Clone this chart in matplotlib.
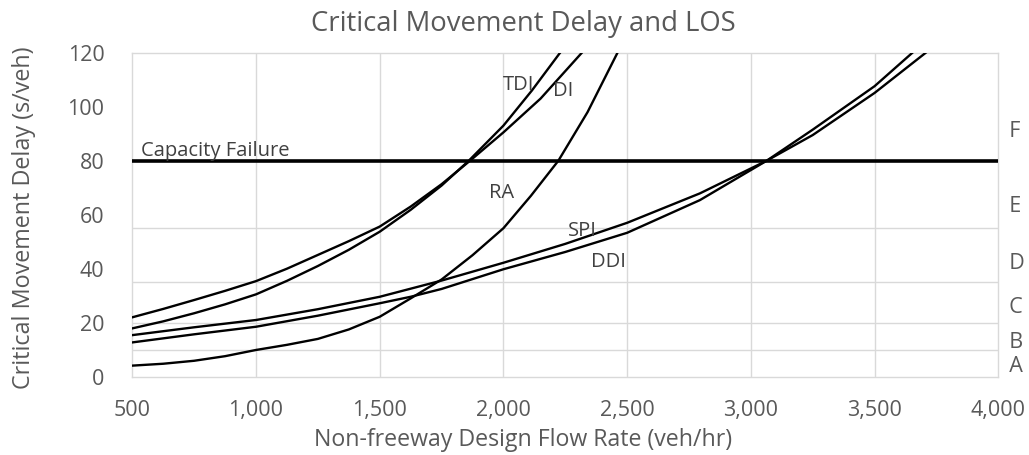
import matplotlib
matplotlib.use("Agg")
import matplotlib.pyplot as plt
from matplotlib.ticker import FuncFormatter

plt.rcParams['font.family'] = ['Open Sans', 'DejaVu Sans']

# ---- data ----
tdi_x = [500, 625, 750, 875, 1000, 1125, 1250, 1375, 1500, 1625, 1750, 1860, 1930, 2000, 2115, 2229]
tdi_y = [17.9, 20.5, 23.5, 26.8, 30.5, 35.5, 41.0, 47.0, 53.7, 61.8, 70.8, 80.0, 86.5, 93.0, 106.0, 120.0]

di_x = [500, 625, 750, 875, 1000, 1125, 1250, 1375, 1500, 1625, 1750, 1865, 2000, 2150, 2317]
di_y = [22.0, 25.1, 28.4, 31.8, 35.4, 40.0, 45.1, 50.2, 55.6, 63.0, 71.3, 80.0, 90.5, 103.0, 120.0]

ra_x = [500, 625, 750, 875, 1000, 1125, 1250, 1375, 1500, 1625, 1750, 1875, 2000, 2111, 2222, 2340, 2461]
ra_y = [4.1, 4.8, 5.9, 7.6, 9.9, 11.8, 14.0, 17.5, 22.2, 29.0, 36.0, 45.0, 55.0, 67.0, 80.0, 98.0, 120.0]

spi_x = [500, 750, 1000, 1250, 1500, 1750, 2000, 2250, 2500, 2794, 3064, 3250, 3500, 3707]
spi_y = [15.4, 18.3, 21.0, 25.0, 29.6, 35.6, 42.2, 49.2, 57.0, 67.9, 80.0, 89.5, 105.1, 120.0]

ddi_x = [500, 750, 1000, 1250, 1500, 1625, 1750, 2000, 2250, 2500, 2794, 3064, 3250, 3500, 3653]
ddi_y = [12.7, 15.7, 18.5, 22.6, 27.2, 29.6, 32.5, 39.8, 46.2, 53.3, 65.4, 80.0, 91.5, 107.6, 120.0]

capacity_delay = 80
los_bounds = [10, 20, 35, 55]
los_letters = ['A', 'B', 'C', 'D', 'E', 'F']
los_label_y = [3.7, 12.7, 25.7, 42.0, 63.0, 90.7]

x_ticks = [500, 1000, 1500, 2000, 2500, 3000, 3500, 4000]
y_ticks = [0, 20, 40, 60, 80, 100, 120]

curve_labels = ['TDI', 'DI', 'RA', 'SPI', 'DDI']
curve_label_pos = [(2060, 108), (2240, 105.9), (1993, 67.9), (2317, 54.1), (2424, 42.4)]

# ---- figure ----
W, H = 1029, 455
fig = plt.figure(figsize=(W / 100, H / 100), dpi=100)
ax = fig.add_axes([132.3 / W, 1 - 376.7 / H, (998.3 - 132.3) / W, (376.7 - 52.7) / H])

grid_c = '#D9D9D9'
text_c = '#595959'
label_c = '#404040'

ax.set_xlim(500, 4000)
ax.set_ylim(0, 120)

for xv in x_ticks[1:-1]:
    ax.axvline(xv, color=grid_c, lw=1.0, zorder=1)
for yv in los_bounds:
    ax.axhline(yv, color=grid_c, lw=1.0, zorder=1)

for sp in ax.spines.values():
    sp.set_color(grid_c)
    sp.set_linewidth(1.0)

ax.axhline(capacity_delay, color='black', lw=2.6, zorder=3)

for xs, ys in [(tdi_x, tdi_y), (di_x, di_y), (ra_x, ra_y), (spi_x, spi_y), (ddi_x, ddi_y)]:
    ax.plot(xs, ys, color='black', lw=1.7, zorder=4, solid_joinstyle='round')

ax.set_xticks(x_ticks)
ax.set_yticks(y_ticks)
ax.xaxis.set_major_formatter(FuncFormatter(lambda v, p: f"{int(v):,}"))
ax.tick_params(axis='both', length=0, labelsize=15.5, labelcolor=text_c)
ax.tick_params(axis='x', pad=17)
ax.tick_params(axis='y', pad=20)

for name, (lx, ly) in zip(curve_labels, curve_label_pos):
    ax.text(lx, ly, name, ha='center', va='center', fontsize=14.5, color=label_c, zorder=5)
ax.text(537, 83.6, 'Capacity Failure', ha='left', va='center', fontsize=14.5, color=label_c, zorder=5)

for letter, ly in zip(los_letters, los_label_y):
    ax.text(1.0, ly, '  ' + letter, transform=ax.get_yaxis_transform(), ha='left', va='center',
            fontsize=15.5, color=text_c)

fig.text(523.5 / W, 1 - 24 / H, 'Critical Movement Delay and LOS', ha='center', va='center',
         fontsize=19.8, color=text_c)
fig.text(523.5 / W, 1 - 440 / H, 'Non-freeway Design Flow Rate (veh/hr)', ha='center', va='center',
         fontsize=16.7, color=text_c)
fig.text(24 / W, 1 - 217.5 / H, 'Critical Movement Delay (s/veh)', ha='center', va='center',
         rotation=90, fontsize=16.8, color=text_c)

fig.savefig('out.png', dpi=100)
